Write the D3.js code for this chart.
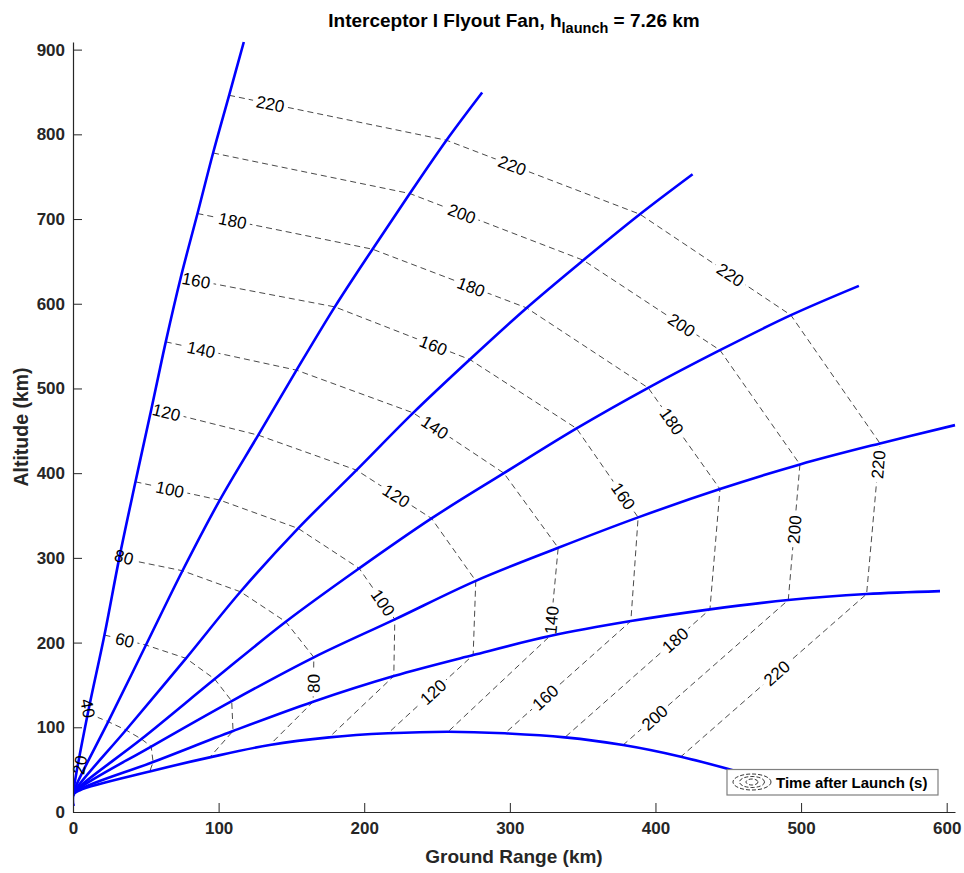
<!DOCTYPE html>
<html>
<head>
<meta charset="utf-8">
<script src="https://cdn.jsdelivr.net/npm/d3@7"></script>
<style>
  body { margin: 0; background: #fff; }
  svg text { font-family: "Liberation Sans", Arial, Helvetica, sans-serif; }
</style>
</head>
<body>
<div id="chart"></div>
<script>
// time after launch of each contour level (s)
const times = [20, 40, 60, 80, 100, 120, 140, 160, 180, 200, 220];

// launch altitude and altitude where the fan starts pitching over (km)
const launchAlt = 7.26;
const pitchAlt = 20;

// ground range (km) and altitude (km) of each flyout at the contour times
const rangeT1 = [0.9, 10.2, 21.6, 31.8, 42.9, 53.9, 63.7, 74.0, 85.5, 96.2, 107.2];
const altT1   = [31.7, 116.5, 208.9, 300.0, 389.8, 476.4, 555.0, 631.0, 706.5, 778.0, 846.1];
const rangeT2 = [2.1, 24.2, 50.1, 75.2, 100.8, 127.2, 153.5, 179.8, 205.7, 231.3, 256.5];
const altT2   = [31.0, 106.6, 197.1, 284.8, 368.2, 444.9, 521.6, 596.3, 664.4, 730.1, 793.0];
const rangeT3 = [3.2, 36.4, 77.6, 115.0, 154.6, 194.7, 233.6, 272.5, 311.5, 350.4, 389.3];
const altT3   = [29.9, 96.8, 181.4, 260.0, 334.8, 403.6, 471.2, 534.2, 595.1, 651.4, 705.7];
const rangeT4 = [3.8, 47.0, 97.3, 146.1, 196.5, 246.2, 295.9, 345.8, 395.0, 444.3, 493.0];
const altT4   = [28.7, 86.1, 156.9, 224.6, 287.6, 346.6, 400.0, 452.8, 500.7, 545.2, 586.5];
const rangeT5 = [4.1, 53.7, 109.0, 165.4, 221.0, 276.6, 333.2, 388.1, 444.3, 499.2, 554.2];
const altT5   = [27.7, 77.3, 131.0, 182.6, 227.4, 272.9, 311.9, 347.8, 381.2, 410.3, 435.1];
const rangeT6 = [4.5, 55.0, 109.9, 164.9, 220.3, 274.8, 327.5, 383.1, 437.4, 491.2, 545.0];
const altT6   = [26.6, 59.0, 95.6, 130.2, 160.5, 185.3, 207.7, 225.4, 239.2, 250.2, 257.3];
const rangeT7 = [4.7, 52.7, 93.9, 135.1, 175.9, 216.3, 257.6, 296.6, 337.8, 377.8, 417.5];
const altT7   = [25.7, 47.8, 64.5, 79.1, 88.1, 92.9, 94.8, 92.9, 88.1, 79.1, 65.3];

// last point of each flyout
const endRange = [117.3, 281.0, 425.5, 539.7, 605.7, 595.4, 458.0];
const endAlt   = [909.0, 849.3, 752.9, 621.1, 456.7, 260.8, 47.0];

const xTicks = [0, 100, 200, 300, 400, 500, 600];
const yTicks = [0, 100, 200, 300, 400, 500, 600, 700, 800, 900];

// contour labels: [time, segment between flyouts, fraction along segment]
const contourLabels = [
  [220, 0, 0.19], [220, 1, 0.34], [220, 2, 0.60], [220, 4, 0.14], [220, 5, 0.485],
  [200, 1, 0.30], [200, 2, 0.72], [200, 4, 0.48], [200, 5, 0.81],
  [180, 0, 0.20], [180, 1, 0.64], [180, 3, 0.33], [180, 5, 0.24],
  [160, 0, 0.10], [160, 1, 0.73], [160, 3, 0.76], [160, 5, 0.68],
  [140, 0, 0.27], [140, 2, 0.24], [140, 4, 0.82],
  [120, 0, 0.14], [120, 2, 0.53], [120, 5, 0.47],
  [100, 0, 0.41], [100, 3, 0.67],
  [80, 4, 0.59],
  [60, 0, 0.49]
];
// labels that sit along the first flyout: [time, range, altitude, angle]
const edgeLabels = [[20, 4.6, 55.5, -80], [40, 10.3, 122.4, 80], [80, 35.0, 301.0, 15]];

const flyouts = [
  [rangeT1, altT1], [rangeT2, altT2], [rangeT3, altT3], [rangeT4, altT4],
  [rangeT5, altT5], [rangeT6, altT6], [rangeT7, altT7]
];

const W = 964, H = 873;
const axisColor = "#262626";

const svg = d3.select("#chart").append("svg")
  .attr("width", W)
  .attr("height", H);

const xScale = d3.scaleLinear()
  .domain([0, d3.max(endRange)])
  .range([73, 955]);
const yScale = d3.scaleLinear()
  .domain([0, d3.max(endAlt)])
  .range([812, 42]);

// clip for plotted data
svg.append("clipPath").attr("id", "plotClip")
  .append("rect")
  .attr("x", xScale(0)).attr("y", yScale(d3.max(endAlt)) - 2)
  .attr("width", xScale(d3.max(endRange)) - xScale(0) + 2)
  .attr("height", yScale(0) - yScale(d3.max(endAlt)) + 2);

// time contours
const contourPts = times.map((t, k) =>
  flyouts.map(f => [xScale(f[0][k]), yScale(f[1][k])]));

const maskRoot = svg.append("mask").attr("id", "gapMask")
  .attr("maskUnits", "userSpaceOnUse")
  .attr("x", 0).attr("y", 0).attr("width", W).attr("height", H);
maskRoot.append("rect").attr("width", W).attr("height", H).attr("fill", "white");

const contourG = svg.append("g")
  .attr("clip-path", "url(#plotClip)")
  .append("g")
  .attr("mask", "url(#gapMask)");

contourG.selectAll(".contour")
  .data(contourPts)
  .enter().append("path")
  .attr("class", "contour")
  .attr("d", d3.line())
  .attr("fill", "none")
  .attr("stroke", "#1a1a1a")
  .attr("stroke-width", 0.8)
  .attr("stroke-dasharray", "6,4");

// flyout trajectories
const traj = d3.line().curve(d3.curveCatmullRom.alpha(0.5));
svg.append("g")
  .attr("clip-path", "url(#plotClip)")
  .selectAll(".flyout")
  .data(flyouts)
  .enter().append("path")
  .attr("class", "flyout")
  .attr("d", (f, i) => {
    const pts = [[xScale(0), yScale(launchAlt)], [xScale(0), yScale(pitchAlt)]];
    f[0].forEach((x, k) => pts.push([xScale(x), yScale(f[1][k])]));
    pts.push([xScale(endRange[i]), yScale(endAlt[i])]);
    return traj(pts);
  })
  .attr("fill", "none")
  .attr("stroke", "#0000ff")
  .attr("stroke-width", 2.6);

// contour labels
const labelG = svg.append("g");
function addLabel(text, x, y, ang) {
  const t = labelG.append("text")
    .attr("transform", `translate(${x},${y}) rotate(${ang})`)
    .attr("text-anchor", "middle")
    .attr("dy", "0.36em")
    .attr("font-size", 17)
    .attr("fill", "#000")
    .text(text);
  const w = t.node().getComputedTextLength() + 7;
  maskRoot.append("rect")
    .attr("x", -w / 2).attr("y", -8).attr("width", w).attr("height", 16)
    .attr("transform", `translate(${x},${y}) rotate(${ang})`)
    .attr("fill", "black");
}

contourLabels.forEach(([t, seg, f]) => {
  const pts = contourPts[times.indexOf(t)];
  const a = pts[seg], b = pts[seg + 1];
  const x = a[0] + (b[0] - a[0]) * f;
  const y = a[1] + (b[1] - a[1]) * f;
  let ang = Math.atan2(b[1] - a[1], b[0] - a[0]) * 180 / Math.PI;
  if (ang > 90) ang -= 180;
  if (ang <= -90) ang += 180;
  addLabel(t, x, y, ang);
});
edgeLabels.forEach(([t, r, h, ang]) => addLabel(t, xScale(r), yScale(h), ang));

// axes
const xAxis = svg.append("g")
  .attr("transform", `translate(0,${yScale(0)})`)
  .call(d3.axisBottom(xScale).tickValues(xTicks).tickSizeInner(-9).tickSizeOuter(0).tickPadding(10));
const yAxis = svg.append("g")
  .attr("transform", `translate(${xScale(0)},0)`)
  .call(d3.axisLeft(yScale).tickValues(yTicks).tickSizeInner(-9).tickSizeOuter(0).tickPadding(8));

[xAxis, yAxis].forEach(ax => {
  ax.select(".domain").attr("stroke", axisColor).attr("stroke-width", 1.2);
  ax.selectAll(".tick line").attr("stroke", axisColor).attr("stroke-width", 1);
  ax.selectAll(".tick text")
    .attr("fill", axisColor)
    .attr("font-size", 17)
    .attr("font-weight", "bold")
    .style("font-family", '"Liberation Sans", Arial, sans-serif');
});

// axis titles
svg.append("text")
  .attr("x", (xScale.range()[0] + xScale.range()[1]) / 2)
  .attr("y", 863)
  .attr("text-anchor", "middle")
  .attr("font-size", 19)
  .attr("font-weight", "bold")
  .attr("fill", axisColor)
  .text("Ground Range (km)");

svg.append("text")
  .attr("transform", `translate(28,${(yScale.range()[0] + yScale.range()[1]) / 2}) rotate(-90)`)
  .attr("text-anchor", "middle")
  .attr("font-size", 19.5)
  .attr("font-weight", "bold")
  .attr("fill", axisColor)
  .text("Altitude (km)");

// title
const title = svg.append("text")
  .attr("x", (xScale.range()[0] + xScale.range()[1]) / 2)
  .attr("y", 27)
  .attr("text-anchor", "middle")
  .attr("font-size", 19)
  .attr("font-weight", "bold")
  .attr("fill", "#000");
title.append("tspan").text("Interceptor I Flyout Fan, h");
title.append("tspan").attr("dy", 6).attr("font-size", 14.5).text("launch");
title.append("tspan").attr("dy", -6).text(" = 7.26 km");

// legend
const legend = svg.append("g")
  .attr("transform", `translate(727,769.5)`);
legend.append("rect")
  .attr("width", 211).attr("height", 25.5)
  .attr("fill", "#fff")
  .attr("stroke", "#7f7f7f")
  .attr("stroke-width", 1.2);
[[19, 8], [12.5, 5.5], [6, 3]].forEach(([rx, ry]) => {
  legend.append("ellipse")
    .attr("cx", 25).attr("cy", 12.5)
    .attr("rx", rx).attr("ry", ry)
    .attr("fill", "none")
    .attr("stroke", "#000")
    .attr("stroke-width", 0.8)
    .attr("stroke-dasharray", "4,2");
});
legend.append("text")
  .attr("x", 49).attr("y", 12.8)
  .attr("dy", "0.36em")
  .attr("font-size", 15)
  .attr("font-weight", "bold")
  .attr("fill", "#000")
  .text("Time after Launch (s)");
</script>
</body>
</html>
